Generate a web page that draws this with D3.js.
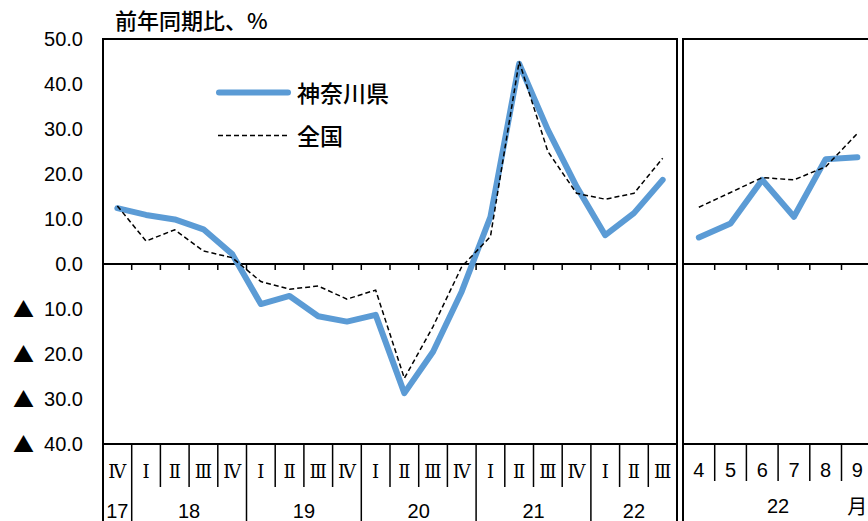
<!DOCTYPE html>
<html>
<head>
<meta charset="utf-8">
<script src="https://cdn.jsdelivr.net/npm/d3@7"></script>
<style>
  body { margin: 0; background: #fff; }
  svg { display: block; }
</style>
</head>
<body>
<div id="chart"></div>
<script>
// quarterly data, 2017 IV - 2022 III
var quarters = ["Ⅳ", "Ⅰ", "Ⅱ", "Ⅲ", "Ⅳ", "Ⅰ", "Ⅱ", "Ⅲ", "Ⅳ", "Ⅰ", "Ⅱ", "Ⅲ", "Ⅳ", "Ⅰ", "Ⅱ", "Ⅲ", "Ⅳ", "Ⅰ", "Ⅱ", "Ⅲ"];
var kanagawaQ = [12.4, 10.9, 9.9, 7.7, 2.2, -8.9, -7.1, -11.6, -12.8, -11.3, -28.7, -19.5, -6.1, 10.5, 44.5, 29.8, 17.2, 6.4, 11.3, 18.7];
var nationalQ = [12.9, 5.1, 7.6, 2.9, 1.4, -3.9, -5.6, -4.9, -7.8, -5.8, -25.4, -13.9, -0.6, 6.1, 45.0, 25.0, 15.7, 14.4, 15.7, 23.5];
var yearLabels = ["17", "18", "19", "20", "21", "22"];
var yearStart = [0, 1, 5, 9, 13, 17];
var yearCount = [1, 4, 4, 4, 4, 3];

// monthly data, 2022
var months = ["4", "5", "6", "7", "8", "9"];
var kanagawaM = [5.9, 9.0, 18.7, 10.5, 23.3, 23.7];
var nationalM = [12.6, 15.9, 19.2, 18.7, 21.6, 29.0];

var yTicks = [50, 40, 30, 20, 10, 0, -10, -20, -30, -40];

var W = 868, H = 521;
var plotTop = 39, plotBottom = 444;
var blue = "#5b9bd5";
var fontNum = "'Liberation Sans', Arial, sans-serif";
var fontJp = "'Noto Sans CJK JP', sans-serif";
var fontRoman = "'DejaVu Serif', serif";

var svg = d3.select("#chart").append("svg")
  .attr("width", W)
  .attr("height", H);

var y = d3.scaleLinear().domain([-40, 50]).range([plotBottom, plotTop]);

var xq = d3.scaleBand().domain(d3.range(quarters.length)).range([103, 677]);
var xm = d3.scaleBand().domain(d3.range(months.length)).range([683, 683 + 6 * 31.7]);

// title
svg.append("text")
  .attr("x", 115).attr("y", 29)
  .attr("font-family", fontJp).attr("font-size", 22)
  .attr("font-weight", 500)
  .text("前年同期比、%");

// y tick labels (negatives shown with a triangle)
svg.selectAll(".ytick").data(yTicks).enter().append("text")
  .attr("class", "ytick")
  .attr("x", 83)
  .attr("y", function (d) { return y(d); })
  .attr("dy", "0.36em")
  .attr("text-anchor", "end")
  .attr("font-family", fontNum).attr("font-size", 20)
  .text(function (d) { return Math.abs(d).toFixed(1); });
svg.selectAll(".ytri").data(yTicks.filter(function (d) { return d < 0; })).enter().append("text")
  .attr("class", "ytri")
  .attr("x", 13)
  .attr("y", function (d) { return y(d); })
  .attr("dy", "0.36em")
  .attr("font-family", fontJp).attr("font-size", 21)
  .text("▲");

function panel(x, n, x0, x1) {
  var g = svg.append("g");
  // frame: top, zero, bottom, left
  [plotTop, y(0), plotBottom].forEach(function (yy) {
    g.append("line").attr("x1", x0).attr("x2", x1).attr("y1", yy).attr("y2", yy)
      .attr("stroke", "#000").attr("stroke-width", 2);
  });
  g.append("line").attr("x1", x0).attr("x2", x0).attr("y1", plotTop - 1).attr("y2", H)
    .attr("stroke", "#000").attr("stroke-width", 2);
  // ticks on zero line
  d3.range(1, n).forEach(function (i) {
    var xx = x(i);
    g.append("line").attr("x1", xx).attr("x2", xx).attr("y1", y(0)).attr("y2", y(0) + 6)
      .attr("stroke", "#000").attr("stroke-width", 1.5);
  });
  return g;
}

var gl = panel(xq, quarters.length, 103, 677);
gl.append("line").attr("x1", 677).attr("x2", 677).attr("y1", plotTop - 1).attr("y2", H)
  .attr("stroke", "#000").attr("stroke-width", 2);
var gr = panel(xm, months.length, 683, W);

// quarter dividers and labels
d3.range(1, quarters.length).forEach(function (i) {
  var isYear = yearStart.indexOf(i) >= 0;
  gl.append("line").attr("x1", xq(i)).attr("x2", xq(i))
    .attr("y1", plotBottom).attr("y2", isYear ? H : 487)
    .attr("stroke", "#000").attr("stroke-width", 1.5);
});
gl.selectAll(".q").data(quarters).enter().append("text")
  .attr("x", function (d, i) { return xq(i) + xq.bandwidth() / 2; })
  .attr("y", 478)
  .attr("text-anchor", "middle")
  .attr("font-family", fontRoman).attr("font-size", 18)
  .text(function (d) { return d; });
gl.selectAll(".yr").data(yearLabels).enter().append("text")
  .attr("x", function (d, i) {
    return xq(yearStart[i]) + yearCount[i] * xq.bandwidth() / 2;
  })
  .attr("y", 518)
  .attr("text-anchor", "middle")
  .attr("font-family", fontNum).attr("font-size", 20)
  .text(function (d) { return d; });

// month dividers and labels
d3.range(1, months.length).forEach(function (i) {
  gr.append("line").attr("x1", xm(i)).attr("x2", xm(i))
    .attr("y1", plotBottom).attr("y2", 481)
    .attr("stroke", "#000").attr("stroke-width", 1.5);
});
gr.selectAll(".m").data(months).enter().append("text")
  .attr("x", function (d, i) { return xm(i) + xm.bandwidth() / 2; })
  .attr("y", 477)
  .attr("text-anchor", "middle")
  .attr("font-family", fontNum).attr("font-size", 20)
  .text(function (d) { return d; });
gr.append("text")
  .attr("x", xm(0) + 3 * xm.bandwidth()).attr("y", 513)
  .attr("text-anchor", "middle")
  .attr("font-family", fontNum).attr("font-size", 20)
  .text("22");
gr.append("text")
  .attr("x", xm(5) + xm.bandwidth() / 2).attr("y", 514)
  .attr("text-anchor", "middle")
  .attr("font-family", fontJp).attr("font-size", 20)
  .text("月");

// series
function drawLines(x, kana, nat) {
  var line = d3.line()
    .x(function (d, i) { return x(i) + x.bandwidth() / 2; })
    .y(function (d) { return y(d); });
  svg.append("path").datum(kana)
    .attr("d", line)
    .attr("fill", "none")
    .attr("stroke", blue)
    .attr("stroke-width", 6)
    .attr("stroke-linejoin", "round")
    .attr("stroke-linecap", "round");
  svg.append("path").datum(nat)
    .attr("d", line)
    .attr("fill", "none")
    .attr("stroke", "#000")
    .attr("stroke-width", 1.5)
    .attr("stroke-dasharray", "5,3");
}
drawLines(xq, kanagawaQ, nationalQ);
drawLines(xm, kanagawaM, nationalM);

// legend
var lg = svg.append("g");
lg.append("line").attr("x1", 219).attr("x2", 288).attr("y1", 92.5).attr("y2", 92.5)
  .attr("stroke", blue).attr("stroke-width", 6).attr("stroke-linecap", "round");
lg.append("text").attr("x", 297).attr("y", 101.5)
  .attr("font-family", fontJp).attr("font-size", 23).attr("font-weight", 500)
  .text("神奈川県");
lg.append("line").attr("x1", 218).attr("x2", 290).attr("y1", 135.5).attr("y2", 135.5)
  .attr("stroke", "#000").attr("stroke-width", 1.5).attr("stroke-dasharray", "5,3");
lg.append("text").attr("x", 297).attr("y", 144.5)
  .attr("font-family", fontJp).attr("font-size", 23).attr("font-weight", 500)
  .text("全国");
</script>
</body>
</html>
